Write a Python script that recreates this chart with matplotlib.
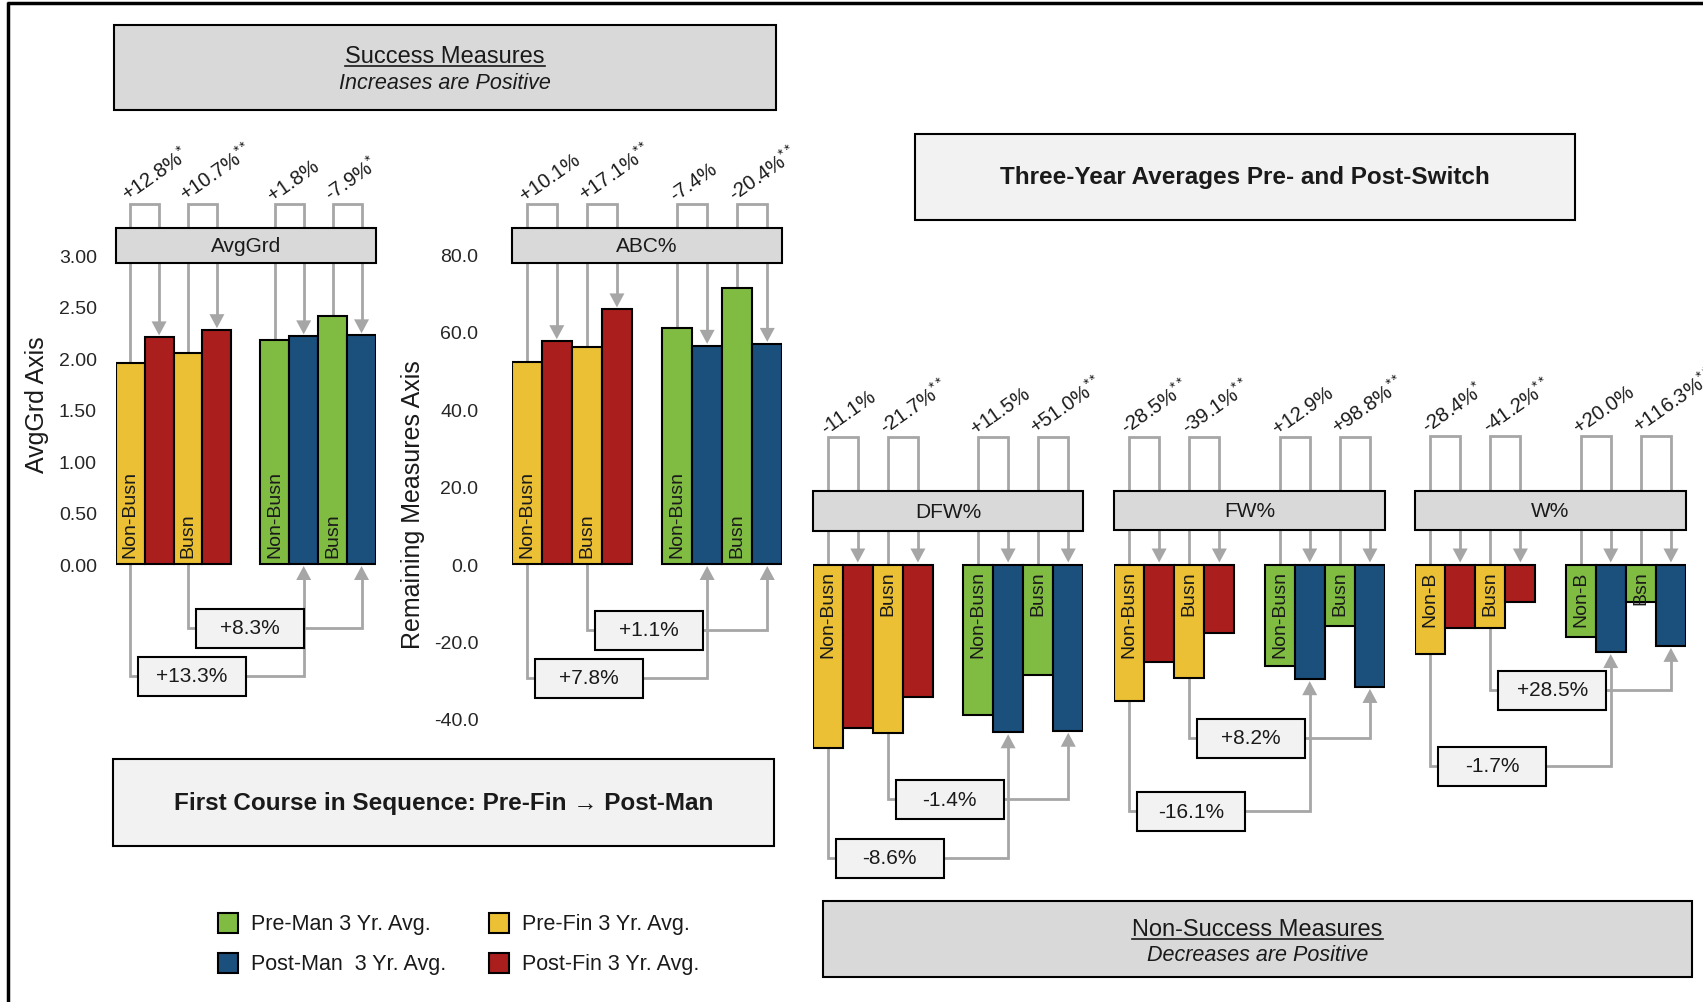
import matplotlib
matplotlib.use('Agg')
import matplotlib.pyplot as plt
from matplotlib.patches import Rectangle, Polygon
import numpy as np

plt.rcParams['font.family'] = ['Liberation Sans', 'DejaVu Sans']
plt.rcParams['mathtext.fontset'] = 'custom'
plt.rcParams['mathtext.rm'] = 'Liberation Sans'
plt.rcParams['mathtext.it'] = 'Liberation Sans:italic'
plt.rcParams['mathtext.default'] = 'regular'

# bar order: Pre-Fin NB, Post-Fin NB, Pre-Fin Busn, Post-Fin Busn,
#            Pre-Man NB, Post-Man NB, Pre-Man Busn, Post-Man Busn
avggrd = [1.95, 2.20, 2.05, 2.27, 2.17, 2.21, 2.41, 2.22]
abc = [52.2, 57.5, 56.1, 65.7, 60.8, 56.3, 71.3, 56.8]
dfw = [47.4, 42.1, 43.5, 34.1, 38.9, 43.3, 28.4, 42.9]
fw = [35.3, 25.2, 29.3, 17.8, 26.2, 29.6, 15.9, 31.6]
w_pct = [23.0, 16.5, 16.3, 9.6, 18.8, 22.6, 9.7, 21.0]

# pre -> post change labels (stars = significance)
avggrd_top = [('+12.8%', '*'), ('+10.7%', '**'), ('+1.8%', ''), ('-7.9%', '*')]
abc_top = [('+10.1%', ''), ('+17.1%', '**'), ('-7.4%', ''), ('-20.4%', '**')]
dfw_top = [('-11.1%', ''), ('-21.7%', '**'), ('+11.5%', ''), ('+51.0%', '**')]
fw_top = [('-28.5%', '**'), ('-39.1%', '**'), ('+12.9%', ''), ('+98.8%', '**')]
w_top = [('-28.4%', '*'), ('-41.2%', '**'), ('+20.0%', ''), ('+116.3%', '**')]

# Pre-Fin -> Post-Man labels: [Non-Busn, Busn]
avggrd_bot = ['+13.3%', '+8.3%']
abc_bot = ['+7.8%', '+1.1%']
dfw_bot = ['-8.6%', '-1.4%']
fw_bot = ['-16.1%', '+8.2%']
w_bot = ['-1.7%', '+28.5%']

grp_lbls = ['Non-Busn', 'Busn', 'Non-Busn', 'Busn']
grp_lbls_short = ['Non-B', 'Busn', 'Non-B', 'Bsn']

legend_lbls = ['Pre-Man 3 Yr. Avg.', 'Post-Man  3 Yr. Avg.', 'Pre-Fin 3 Yr. Avg.', 'Post-Fin 3 Yr. Avg.']

YEL, RED, GRN, BLU = '#EBC034', '#AA1E1D', '#80BC42', '#1B4F7C'
GRAY = '#A6A6A6'
TXT = '#1a1a1a'
bar_colors = [YEL, RED, YEL, RED, GRN, BLU, GRN, BLU]
slots = np.array([0, 1, 2, 3, 5, 6, 7, 8])

W_PX, H_PX = 1703, 1003
fig = plt.figure(figsize=(W_PX / 100, H_PX / 100), dpi=100)
ov = fig.add_axes([0, 0, 1, 1])
ov.set_xlim(0, W_PX)
ov.set_ylim(H_PX, 0)
ov.axis('off')


def gray_arrow(ax, pts, up, dx, dy):
    xs, ys = zip(*pts)
    hl = dy(14)
    d = 1 if up else -1
    ys = list(ys)
    ys[-1] = ys[-1] - d * hl
    ax.plot(xs, ys, color=GRAY, lw=2, clip_on=False, zorder=1, solid_joinstyle='miter')
    x, y = pts[-1]
    hw = dx(7.5)
    ax.add_patch(Polygon([(x - hw, y - d * hl), (x + hw, y - d * hl), (x, y)], closed=True,
                         color=GRAY, clip_on=False, zorder=1, lw=0))


def panel(left, right, k, base, vals, sign, name, top_lbls, bot_lbls, in_lbls,
          box_top, box_bot, brk_top, lv_nb, lv_busn):
    bw = (right - left) / 9
    top_px, bot_px = 100, 950
    ax = fig.add_axes([left / W_PX, 1 - bot_px / H_PX, (right - left) / W_PX, (bot_px - top_px) / H_PX])
    ax.set_xlim(-0.5, 8.5)
    ax.set_ylim((base - bot_px) / k, (base - top_px) / k)
    ax.patch.set_visible(False)
    for s in ax.spines.values():
        s.set_visible(False)
    ax.set_xticks([])
    ax.set_yticks([])

    def ydat(py):
        return (base - py) / k

    def dx(p):
        return p / bw

    def dy(p):
        return p / k

    v = sign * np.array(vals)
    ax.bar(slots, v, width=1.0, color=bar_colors, edgecolor='black', linewidth=1.5, zorder=2)

    # group labels inside the pre bars
    for j, i in enumerate([0, 2, 4, 6]):
        if sign > 0:
            ax.text(slots[i], dy(7), in_lbls[j], rotation=90, ha='center', va='bottom',
                    fontsize=14, color=TXT, zorder=3)
        else:
            ax.text(slots[i], -dy(6), in_lbls[j], rotation=90, ha='center', va='top',
                    fontsize=14, color=TXT, zorder=3)

    # header box
    ax.add_patch(Rectangle((-0.5, ydat(box_bot)), 9, dy(box_bot - box_top), fc='#D9D9D9',
                           ec='black', lw=1.5, clip_on=False, zorder=4))
    ax.text(4, ydat((box_top + box_bot) / 2), name, ha='center', va='center', fontsize=15,
            color=TXT, zorder=5)

    # pre -> post brackets on top
    yt = ydat(brk_top)
    for j, (a, b) in enumerate([(0, 1), (2, 3), (4, 5), (6, 7)]):
        xa, xb = slots[a], slots[b]
        ya = max(v[a], 0)
        tip = max(v[b], 0) + dy(2)
        gray_arrow(ax, [(xa, ya), (xa, yt), (xb, yt), (xb, tip)], False, dx, dy)
        txt, stars = top_lbls[j]
        s = txt + (r'$^{' + stars + '}$' if stars else '')
        ax.text(xa - dx(2), yt + dy(3), s, rotation=35, rotation_mode='anchor', ha='left',
                va='baseline', fontsize=14.5, color=TXT, clip_on=False)

    # Pre-Fin -> Post-Man connectors below
    for j, (a, b, lv) in enumerate([(0, 5, lv_nb), (2, 7, lv_busn)]):
        xa, xb = slots[a], slots[b]
        yc = ydat(lv)
        gray_arrow(ax, [(xa, min(v[a], 0)), (xa, yc), (xb, yc), (xb, min(v[b], 0) - dy(2))],
                   True, dx, dy)
        ax.add_patch(Rectangle((xa + dx(8), yc - dy(19.5)), dx(108), dy(39), fc='#F2F2F2',
                               ec='black', lw=1.5, clip_on=False, zorder=4))
        ax.text(xa + dx(62), yc, bot_lbls[j], ha='center', va='center', fontsize=15,
                color=TXT, zorder=5)
    return ax


ax1 = panel(115.7, 376.0, 103.0, 565, avggrd, 1, 'AvgGrd', avggrd_top, avggrd_bot, grp_lbls,
            229, 264, 205, 677, 629)
ax1.set_yticks(np.arange(0, 3.01, 0.5))
ax1.set_yticklabels(['%.2f' % t for t in np.arange(0, 3.01, 0.5)], fontsize=14, color='#262626')
ax1.tick_params(axis='y', length=0, pad=13.5)

ax2 = panel(511.7, 782.3, 3.875, 565, abc, 1, 'ABC%', abc_top, abc_bot, grp_lbls,
            229, 264, 205, 679, 631)
ax2.set_yticks(np.arange(-40, 81, 20))
ax2.set_yticklabels(['%.1f' % t for t in np.arange(-40, 81, 20)], fontsize=14, color='#262626')
ax2.tick_params(axis='y', length=0, pad=24)

panel(812.7, 1083.3, 3.875, 565.5, dfw, -1, 'DFW%', dfw_top, dfw_bot, grp_lbls, 492, 532, 438,
      859, 800)
panel(1114.0, 1385.0, 3.875, 565.5, fw, -1, 'FW%', fw_top, fw_bot, grp_lbls, 492, 531, 438,
      812, 739)
panel(1415.0, 1686.0, 3.875, 565.5, w_pct, -1, 'W%', w_top, w_bot, grp_lbls_short, 492, 531, 437,
      767, 691)

# axis titles
ov.text(37, 405, 'AvgGrd Axis', rotation=90, ha='center', va='center', fontsize=18, color=TXT)
ov.text(413, 505, 'Remaining Measures Axis', rotation=90, ha='center', va='center', fontsize=18,
        color=TXT)

# frame
ov.plot([8, 8], [3, H_PX], color='black', lw=2.5, solid_capstyle='butt')
ov.plot([6.5, W_PX], [3.5, 3.5], color='black', lw=2.5, solid_capstyle='butt')

# title boxes
ov.add_patch(Rectangle((114, 26), 662, 85, fc='#D9D9D9', ec='black', lw=1.5))
t1 = ov.text(445, 57, 'Success Measures', ha='center', va='center', fontsize=17, color=TXT)
ov.text(445, 83, 'Increases are Positive', ha='center', va='center', fontsize=15.5,
        style='italic', color=TXT)

ov.add_patch(Rectangle((914.5, 135), 660.5, 85.5, fc='#F2F2F2', ec='black', lw=1.5))
ov.text(1245, 177.5, 'Three-Year Averages Pre- and Post-Switch', ha='center', va='center',
        fontsize=17.5, fontweight='bold', color=TXT)

ov.add_patch(Rectangle((113, 760), 661, 87, fc='#F2F2F2', ec='black', lw=1.5))
ov.text(443.5, 804, 'First Course in Sequence: Pre-Fin \u2192 Post-Man', ha='center', va='center',
        fontsize=17.5, fontweight='bold', color=TXT)

ov.add_patch(Rectangle((823, 901.5), 869, 76, fc='#D9D9D9', ec='black', lw=1.5))
t2 = ov.text(1257.5, 930, 'Non-Success Measures', ha='center', va='center', fontsize=17, color=TXT)
ov.text(1257.5, 955.5, 'Decreases are Positive', ha='center', va='center', fontsize=15.5,
        style='italic', color=TXT)

# legend
leg_cols = [GRN, BLU, YEL, RED]
leg_pos = [(218, 914), (218, 953.5), (489, 914), (489, 953.5)]
for (lx, ly), c, lab in zip(leg_pos, leg_cols, legend_lbls):
    ov.add_patch(Rectangle((lx, ly), 20, 20, fc=c, ec='black', lw=1.5))
    ov.text(lx + 33, ly + 11, lab, ha='left', va='center', fontsize=15.5, color=TXT)

# underline the section headings
fig.canvas.draw()
inv = ov.transData.inverted()
for t in (t1, t2):
    bb = t.get_window_extent()
    (x0, y0), (x1, y1) = inv.transform([(bb.x0, bb.y0), (bb.x1, bb.y1)])
    ov.plot([x0, x1], [y0 - 1, y0 - 1], color=TXT, lw=1.2)

fig.savefig('out.png', dpi=100)
